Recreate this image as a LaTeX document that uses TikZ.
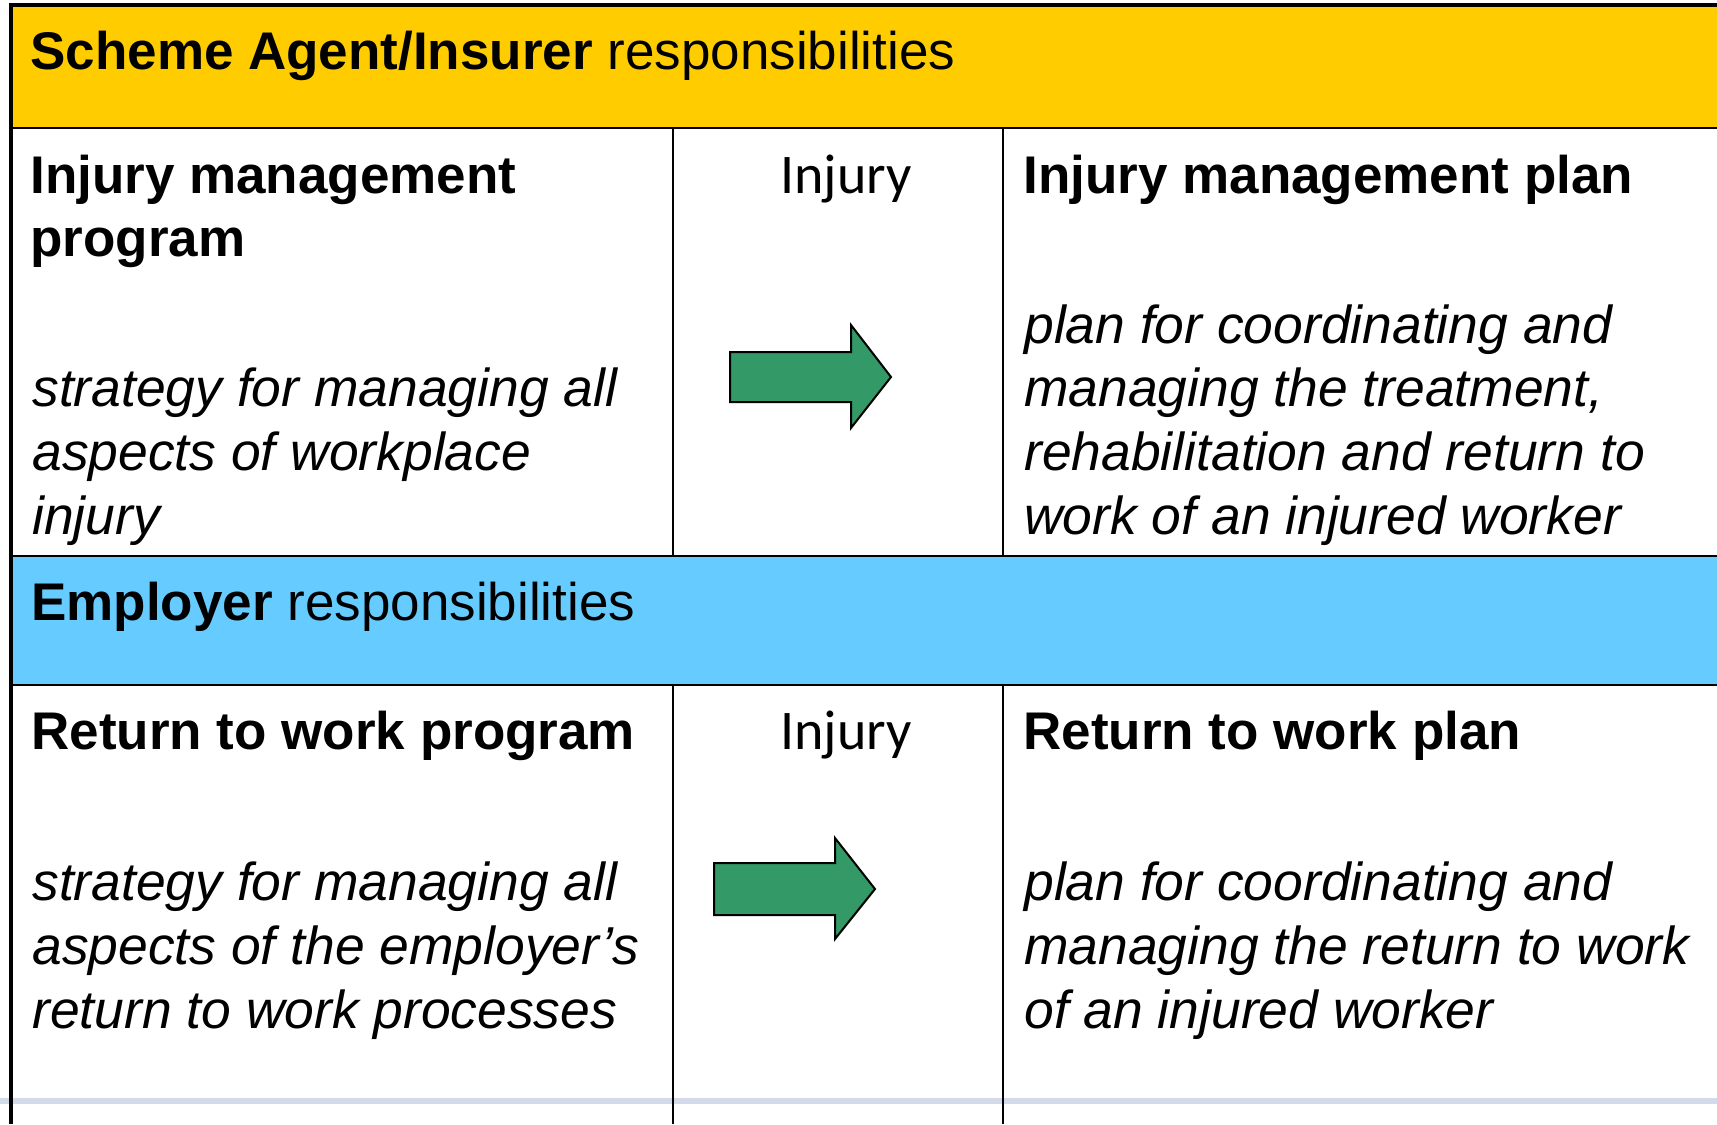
\documentclass[tikz,border=0pt]{standalone}
\usepackage{fontspec}
\setmainfont{Liberation Sans}
\newfontfamily\calfont{Carlito}
\usepackage{xcolor}
\usepackage{tikz}

\definecolor{agentyellow}{HTML}{FFCC00}
\definecolor{employerblue}{HTML}{66CCFF}
\definecolor{arrowgreen}{HTML}{339966}
\definecolor{rulegray}{HTML}{D3DBEA}

\tikzset{
  bandtext/.style={anchor=base west, inner sep=0pt, font=\fontsize{26.5}{32}\selectfont},
  title/.style={anchor=base west, inner sep=0pt, align=left, font=\fontsize{26.5}{31.5}\selectfont\bfseries},
  blurb/.style={anchor=base west, inner sep=0pt, align=left, font=\fontsize{26.7}{31.8}\selectfont\itshape},
  injury/.style={anchor=base, inner sep=0pt, font=\calfont\fontsize{28}{34}\selectfont},
  bigarrow/.style={draw=black, line width=1pt, fill=arrowgreen, line join=miter},
  thinrule/.style={line width=1.2pt},
  thickrule/.style={line width=2.2pt},
}

\begin{document}
\begin{tikzpicture}[x=0.5pt, y=-0.5pt]
\useasboundingbox (0,0) rectangle (1717,1124);

% colour bands
\fill[agentyellow] (11,5) rectangle (1717,128);
\fill[employerblue] (11,556) rectangle (1717,685);

% faint rule near the foot
\draw[rulegray, line width=2.6pt] (0,1101) -- (1717,1101);

% grid lines
\draw[thinrule] (11,128) -- (1717,128);
\draw[thinrule] (11,556) -- (1717,556);
\draw[thinrule] (11,685) -- (1717,685);
\draw[line width=1pt] (673,128) -- (673,556);
\draw[line width=1pt] (1003,128) -- (1003,556);
\draw[line width=1pt] (673,685) -- (673,1124);
\draw[line width=1pt] (1003,685) -- (1003,1124);
\draw[thickrule] (9,5) -- (1717,5);
\draw[thickrule] (11,4) -- (11,1124);

% insurer row (multi-line nodes sit on their last baseline)
\node[bandtext] (agenthead) at (30,69) {\textbf{Scheme Agent/Insurer} responsibilities};
\node[title] (improg) at (30,256) {Injury management\\program};
\node[blurb] (improgtext) at (32,534) {strategy for managing all\\aspects of workplace\\injury};
\node[injury] (injurya) at (846,193) {Injury};
\draw[bigarrow] (730,352) -- (851,352) -- (851,325) -- (891,377) -- (851,428)
  -- (851,402) -- (730,402) -- cycle;
\node[title] (implan) at (1023,193) {Injury management plan};
\node[blurb] (implantext) at (1024,534) {plan for coordinating and\\managing the treatment,\\rehabilitation and return to\\work of an injured worker};

% employer row
\node[bandtext] (employerhead) at (31,620) {\textbf{Employer} responsibilities};
\node[title] (rtwprog) at (31,749) {Return to work program};
\node[blurb] (rtwprogtext) at (32,1028) {strategy for managing all\\aspects of the employer’s\\return to work processes};
\node[injury] (injuryb) at (846,749) {Injury};
\draw[bigarrow] (714,863) -- (835,863) -- (835,838) -- (875,889) -- (835,939)
  -- (835,915) -- (714,915) -- cycle;
\node[title] (rtwplan) at (1023,749) {Return to work plan};
\node[blurb] (rtwplantext) at (1024,1028) {plan for coordinating and\\managing the return to work\\of an injured worker};
\end{tikzpicture}
\end{document}
